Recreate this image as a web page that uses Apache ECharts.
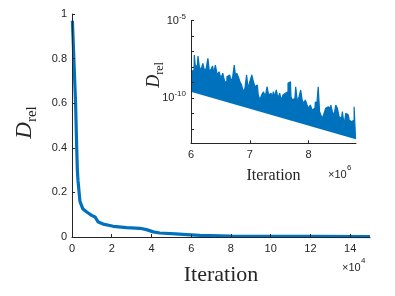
<!DOCTYPE html>
<html>
<head>
<meta charset="utf-8">
<script src="https://cdn.jsdelivr.net/npm/echarts@6/dist/echarts.min.js"></script>
<style>
html,body{margin:0;padding:0;background:#fff;}
#c{width:395px;height:296px;}
</style>
</head>
<body>
<div id="c"></div>
<script>
// ---- main plot data (iteration in units of 1e4) ----
const mainIter = [0.02, 0.18, 0.24, 0.27, 0.30, 0.40, 0.54, 0.74, 0.99, 1.16, 1.32, 1.57, 2.08, 2.75, 3.42, 3.75, 4.09, 4.42, 5.2, 5.76, 6.43, 8, 10, 12, 15];
const mainD = [0.97, 0.60, 0.39, 0.30, 0.255, 0.16, 0.127, 0.112, 0.097, 0.09, 0.067, 0.058, 0.048, 0.042, 0.039, 0.033, 0.023, 0.018, 0.014, 0.011, 0.007, 0.004, 0.003, 0.0025, 0.002];
const mainXTicks = [0, 2, 4, 6, 8, 10, 12, 14];
const mainYTicks = [0, 0.2, 0.4, 0.6, 0.8, 1];

// ---- inset data (iteration in units of 1e6, D as log10 exponent) ----
const insetIter = [6.0, 6.017, 6.051, 6.063, 6.080, 6.107, 6.131, 6.153, 6.187, 6.216, 6.244, 6.273, 6.302, 6.324, 6.358, 6.375, 6.397, 6.431, 6.460, 6.494, 6.523, 6.557, 6.591, 6.630, 6.659, 6.698, 6.721, 6.750, 6.767, 6.789, 6.818, 6.847, 6.874, 6.903, 6.932, 6.959, 6.983, 7.017, 7.051, 7.073, 7.102, 7.129, 7.158, 7.187, 7.215, 7.249, 7.278, 7.307, 7.334, 7.363, 7.392, 7.409, 7.436, 7.465, 7.494, 7.521, 7.550, 7.579, 7.606, 7.635, 7.664, 7.692, 7.709, 7.738, 7.767, 7.794, 7.823, 7.852, 7.879, 7.903, 7.930, 7.959, 7.988, 8.015, 8.044, 8.073, 8.107, 8.124, 8.152, 8.175, 8.198, 8.220, 8.249, 8.278, 8.305, 8.334, 8.363, 8.390, 8.419, 8.448, 8.475, 8.504, 8.533, 8.560, 8.589, 8.618, 8.646, 8.675, 8.704, 8.731, 8.760, 8.789, 8.806];
const insetExpUpper = [-8.30, -8.29, -8.18, -7.21, -7.86, -7.97, -7.28, -7.97, -8.18, -7.75, -8.23, -8.07, -7.43, -8.29, -8.14, -7.92, -8.39, -7.86, -8.50, -8.29, -8.72, -8.39, -8.94, -8.61, -8.50, -8.94, -8.61, -7.86, -8.61, -8.39, -8.61, -8.94, -9.15, -9.58, -9.36, -8.50, -9.36, -8.94, -8.50, -8.94, -9.26, -9.15, -9.79, -10.12, -9.79, -9.58, -9.90, -9.26, -9.79, -9.68, -10.01, -9.58, -9.90, -9.47, -10.01, -9.68, -10.12, -9.79, -9.68, -9.58, -9.04, -8.94, -9.90, -10.12, -10.01, -9.26, -10.23, -9.90, -9.47, -10.12, -10.33, -10.12, -10.44, -10.65, -10.44, -10.76, -10.65, -10.23, -10.44, -9.26, -10.87, -11.08, -11.30, -10.97, -10.65, -10.55, -10.65, -10.44, -10.87, -11.08, -10.44, -10.65, -11.19, -11.30, -10.87, -11.73, -10.97, -11.08, -11.41, -11.52, -11.41, -10.55, -12.59];
const envIter = [6.0, 8.806];
const envExp = [-9.54, -12.60];
const insetXTicks = [6, 7, 8];
const insetYTickExps = [-12, -11, -10, -9, -8, -7, -6, -5];
const insetYLabelExps = [-10, -5];

const BLUE = '#0072BD';
const AX = '#262626';
const SANS = 'Liberation Sans, Arial, Helvetica, sans-serif';
const SERIF = 'Liberation Serif, Times New Roman, serif';

const zip = (a, b) => a.map((v, i) => [v, b[i]]);

const chart = echarts.init(document.getElementById('c'), null, {renderer: 'canvas'});

const axisLineStyle = {show: true, lineStyle: {color: AX, width: 1}};

chart.setOption({
  animation: false,
  backgroundColor: '#fff',
  grid: [
    {left: 72, top: 14, width: 298, height: 223, containLabel: false},
    {left: 191, top: 20.7, width: 165, height: 122.6, containLabel: false}
  ],
  xAxis: [
    {
      gridIndex: 0, type: 'value', min: 0, max: 15, z: 10,
      axisLine: axisLineStyle,
      axisTick: {show: true, inside: true, length: 3, lineStyle: {color: AX}, customValues: mainXTicks},
      axisLabel: {color: AX, fontFamily: SANS, fontSize: 11, margin: 6, customValues: mainXTicks},
      splitLine: {show: false},
      name: 'Iteration', nameLocation: 'middle', nameGap: 27,
      nameTextStyle: {fontFamily: SERIF, fontSize: 22, color: AX}
    },
    {
      gridIndex: 1, type: 'value', min: 6, max: 8.806, z: 10,
      axisLine: axisLineStyle,
      axisTick: {show: true, inside: true, length: 3, lineStyle: {color: AX}, customValues: insetXTicks},
      axisLabel: {color: AX, fontFamily: SANS, fontSize: 11, margin: 6, customValues: insetXTicks},
      splitLine: {show: false},
      name: 'Iteration', nameLocation: 'middle', nameGap: 24,
      nameTextStyle: {fontFamily: SERIF, fontSize: 16, color: AX}
    }
  ],
  yAxis: [
    {
      gridIndex: 0, type: 'value', min: 0, max: 1, z: 10,
      axisLine: axisLineStyle,
      axisTick: {show: true, inside: true, length: 3, lineStyle: {color: AX}, customValues: mainYTicks},
      axisLabel: {color: AX, fontFamily: SANS, fontSize: 11, margin: 5, customValues: mainYTicks},
      splitLine: {show: false},
      name: '{d|D}{s|rel}', nameLocation: 'middle', nameGap: 32,
      nameTextStyle: {
        color: AX,
        padding: [0, 0, 0, 6],
        rich: {
          d: {fontFamily: SERIF, fontStyle: 'italic', fontSize: 23, color: AX, lineHeight: 30},
          s: {fontFamily: SERIF, fontSize: 15, color: AX, lineHeight: 30, verticalAlign: 'bottom'}
        }
      }
    },
    {
      gridIndex: 1, type: 'value', min: -12.91, max: -5, z: 10,
      axisLine: axisLineStyle,
      axisTick: {show: true, inside: true, length: 3, lineStyle: {color: AX}, customValues: insetYTickExps},
      axisLabel: {
        color: AX, fontFamily: SANS, fontSize: 11, margin: 5, customValues: insetYLabelExps,
        formatter: v => '{b|10}{p|' + Math.round(v) + '}',
        rich: {
          b: {fontFamily: SANS, fontSize: 11, color: AX, lineHeight: 16},
          p: {fontFamily: SANS, fontSize: 8, color: AX, lineHeight: 16, verticalAlign: 'top'}
        }
      },
      splitLine: {show: false},
      name: '{d|D}{s|rel}', nameLocation: 'middle', nameGap: 25, nameMoveOverlap: false,
      nameTextStyle: {
        color: AX,
        padding: [0, 0, 0, 14],
        rich: {
          d: {fontFamily: SERIF, fontStyle: 'italic', fontSize: 18, color: AX, lineHeight: 24},
          s: {fontFamily: SERIF, fontSize: 12, color: AX, lineHeight: 24, verticalAlign: 'bottom'}
        }
      }
    }
  ],
  series: [
    {
      type: 'line', xAxisIndex: 0, yAxisIndex: 0,
      data: zip(mainIter, mainD), showSymbol: false, symbol: 'none',
      lineStyle: {color: BLUE, width: 3.2}, z: 3
    },
    {
      type: 'line', xAxisIndex: 1, yAxisIndex: 1, step: 'middle',
      data: zip(insetIter, insetExpUpper), showSymbol: false, symbol: 'none',
      lineStyle: {color: BLUE, width: 1.2},
      areaStyle: {color: BLUE, opacity: 1, origin: 'start'}, z: 3
    },
    {
      type: 'line', xAxisIndex: 1, yAxisIndex: 1,
      data: zip(envIter, envExp), showSymbol: false, symbol: 'none',
      lineStyle: {color: BLUE, width: 1.5},
      areaStyle: {color: '#ffffff', opacity: 1, origin: 'start'}, z: 4
    }
  ],
  graphic: [
    {type: 'text', left: 342, top: 262, z: 20, style: {text: '×10', fontFamily: SANS, fontSize: 11, fill: AX}},
    {type: 'text', left: 361, top: 257, z: 20, style: {text: '4', fontFamily: SANS, fontSize: 8, fill: AX}},
    {type: 'text', left: 328, top: 169, z: 20, style: {text: '×10', fontFamily: SANS, fontSize: 11, fill: AX}},
    {type: 'text', left: 347, top: 164, z: 20, style: {text: '6', fontFamily: SANS, fontSize: 8, fill: AX}}
  ]
});
</script>
</body>
</html>
